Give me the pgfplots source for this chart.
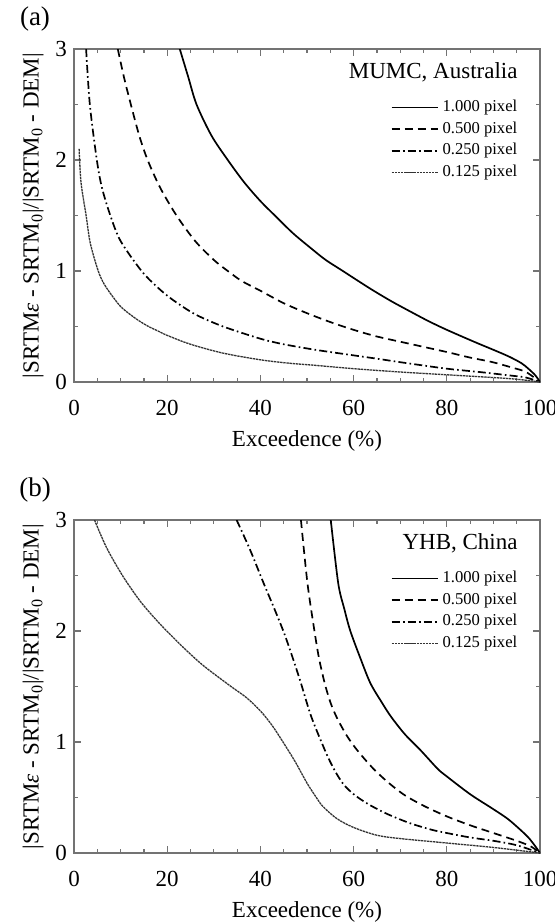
\documentclass[border=0pt]{standalone}
\usepackage{fontspec}
\setmainfont{Liberation Serif}
\usepackage{pgfplots}
\pgfplotsset{compat=1.18}
\newcommand{\mainsz}{\fontsize{11.5}{13}\selectfont}
\newcommand{\legsz}{\fontsize{8.3}{10}\selectfont}
\pgfplotsset{
  panel/.style={
    scale only axis, width=233pt, height=166.5pt,
    xmin=0, xmax=100, ymin=0, ymax=3,
    xtick={0,20,...,100}, ytick={0,1,2,3},
    minor x tick num=3, minor y tick num=1,
    tick align=inside, tick pos=both,
    major tick length=3.3pt, minor tick length=2pt,
    axis line style={black!55, line width=0.6pt},
    every tick/.style={black!55, line width=0.6pt},
    /pgf/number format/assume math mode=true,
    tick label style={font=\mainsz},
    label style={font=\mainsz},
    xlabel={Exceedence (\%)},
    ylabel={|SRTM\textit{ε} - SRTM\textsubscript{0}|/|SRTM\textsubscript{0} - DEM|},
    xlabel style={yshift=-0.5pt},
    ylabel style={yshift=-1pt},
    xticklabel style={yshift=-5.5pt},
    legend style={at={(0.965,0.865)}, anchor=north east, draw=none, fill=none,
      font=\legsz, row sep=-0.5pt, inner sep=1pt},
    legend cell align=left,
    legend image code/.code={\draw[##1] (0pt,0pt) -- (23pt,0pt);},
  },
  s1/.style={black, line width=0.85pt, smooth, tension=0.5},
  s2/.style={black, line width=0.85pt, dash pattern=on 4pt off 2.5pt, smooth, tension=0.5},
  s3/.style={black, line width=0.85pt, dash pattern=on 4pt off 1.6pt on 0.8pt off 1.6pt, smooth, tension=0.5},
  s4/.style={black!80, line width=0.65pt, dash pattern=on 1.2pt off 0.35pt, smooth, tension=0.5},
}
\begin{document}
\begin{tikzpicture}
\useasboundingbox (0,0) rectangle (277.5pt,-461pt);
% ---------------- (a)
\node[font=\fontsize{13.5}{15}\selectfont] at (17.5pt,-9.5pt) {(a)};
\begin{axis}[panel, at={(37pt,-24.5pt)}, anchor=north west]
\addplot[s1] coordinates {
(22.7,3.0) (24.5,2.75) (26.3,2.5) (29.5,2.22) (33,2.0) (36.5,1.8) (40,1.63)
(43.1,1.5) (47,1.34) (51,1.2) (54,1.1) (57.7,1.0) (61,0.91) (64,0.83) (68,0.73)
(71.5,0.65) (76,0.55) (80,0.47) (86,0.36) (90,0.29) (93.3,0.23) (96,0.17)
(97.5,0.12) (99,0.06) (100,0)};
\addlegendentry{1.000 pixel}
\addplot[s2] coordinates {
(9.4,3.0) (10.7,2.75) (12.2,2.5) (14,2.22) (15.8,2.0) (18.5,1.75) (22,1.5)
(26,1.27) (30,1.1) (33,1.0) (36,0.91) (40.1,0.82) (45,0.71) (50,0.62)
(55,0.54) (60,0.47) (65,0.41) (71.4,0.35) (80,0.27) (85,0.22) (89.7,0.18)
(94,0.13) (97,0.09) (100,0)};
\addlegendentry{0.500 pixel}
\addplot[s3] coordinates {
(2.6,3.0) (3.4,2.5) (4.9,2.0) (6,1.75) (7.8,1.5) (10,1.27) (14.5,1.0)
(18,0.85) (21.2,0.74) (26,0.61) (32,0.5) (40,0.39) (45,0.34) (51.8,0.29)
(60,0.24) (65,0.21) (71.4,0.17) (80,0.12) (87,0.09) (93.3,0.06) (97,0.04)
(100,0)};
\addlegendentry{0.250 pixel}
\addplot[s4] coordinates {
(1.1,2.1) (1.5,1.8) (2.6,1.5) (3.5,1.25) (5.2,1.0) (6.5,0.88) (8.3,0.77)
(10,0.68) (12,0.61) (14,0.55) (16,0.5) (18,0.46) (20,0.42) (25,0.34) (32,0.26)
(40,0.2) (46,0.17) (51.8,0.15) (60,0.12) (70,0.09) (80,0.065) (90,0.04)
(95,0.025) (100,0)};
\addlegendentry{0.125 pixel}
\node[anchor=east, font=\mainsz] at (rel axis cs:0.967,0.931) {MUMC, Australia};
\end{axis}
% ---------------- (b)
\node[font=\fontsize{13.5}{15}\selectfont] at (17.5pt,-245pt) {(b)};
\begin{axis}[panel, at={(37pt,-260pt)}, anchor=north west]
\addplot[s1] coordinates {
(55.1,3.0) (56.7,2.43) (58,2.2) (59.3,2.0) (61.5,1.75) (63.6,1.53) (66,1.36)
(68,1.23) (71,1.07) (74.5,0.92) (78,0.76) (80,0.69) (85,0.53) (89.8,0.4)
(93,0.31) (95.5,0.22) (97.5,0.14) (99,0.06) (100,0)};
\addlegendentry{1.000 pixel}
\addplot[s2] coordinates {
(48.7,3.0) (50.1,2.43) (51.6,2.0) (52.6,1.75) (53.8,1.53) (55,1.36) (56.4,1.22)
(58.5,1.06) (60.7,0.93) (64,0.77) (67.3,0.64) (71,0.52) (75.3,0.42) (80,0.33)
(85,0.25) (90,0.18) (95,0.11) (98,0.06) (100,0)};
\addlegendentry{0.500 pixel}
\addplot[s3] coordinates {
(34.9,3.0) (37.8,2.73) (40.7,2.43) (43,2.2) (45.1,1.98) (47,1.75) (48.7,1.53)
(50.9,1.23) (53.8,0.93) (55,0.82) (56.4,0.71) (58,0.61) (60,0.53) (62,0.47)
(64,0.42) (67.3,0.35) (72,0.27) (76.7,0.21) (80,0.18) (85,0.14) (90,0.11)
(95,0.07) (100,0)};
\addlegendentry{0.250 pixel}
\addplot[s4] coordinates {
(4.4,3.0) (7,2.75) (10.4,2.5) (14,2.28) (17,2.13) (19.9,2.0) (24,1.83)
(28,1.68) (33.7,1.5) (37,1.4) (40,1.28) (42.5,1.15) (45,0.99) (47.5,0.82)
(50,0.63) (52,0.5) (53.4,0.42) (56.4,0.31) (60,0.23) (65,0.16) (70,0.13)
(80,0.09) (90,0.05) (100,0)};
\addlegendentry{0.125 pixel}
\node[anchor=east, font=\mainsz] at (rel axis cs:0.967,0.931) {YHB, China};
\end{axis}
\end{tikzpicture}
\end{document}
